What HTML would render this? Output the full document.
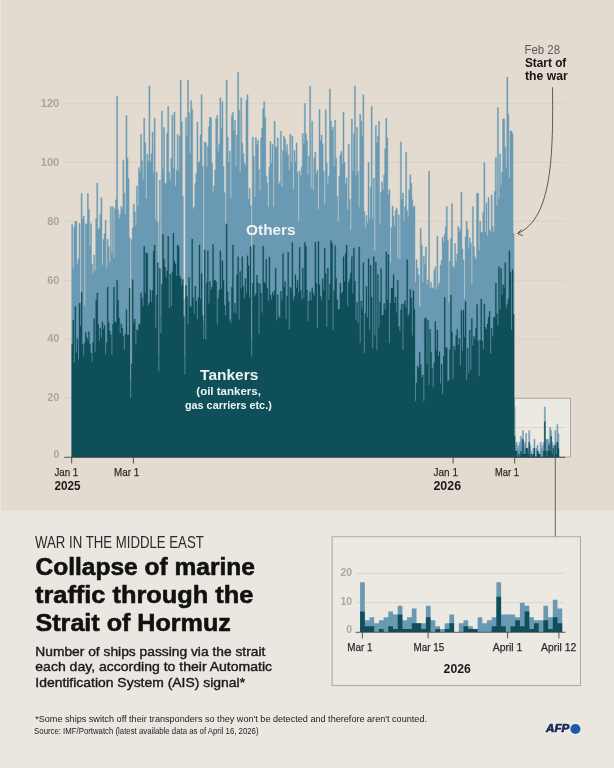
<!DOCTYPE html>
<html><head><meta charset="utf-8"><title>Collapse of marine traffic through the Strait of Hormuz</title>
<style>
html,body{margin:0;padding:0;background:#eae6e0;}
body{width:614px;height:768px;overflow:hidden;font-family:"Liberation Sans",sans-serif;}
svg{display:block;will-change:transform;font-family:"Liberation Sans",sans-serif;}
</style></head><body>
<svg width="614" height="768" viewBox="0 0 614 768">
<rect x="0" y="0" width="614" height="768" fill="#eae6e0"/>
<rect x="1" y="0" width="613" height="510.7" fill="#e3dbcf"/>
<line x1="64" x2="565" y1="398.10" y2="398.10" stroke="#d8d1c5" stroke-width="1"/>
<line x1="64" x2="565" y1="339.20" y2="339.20" stroke="#d8d1c5" stroke-width="1"/>
<line x1="64" x2="565" y1="280.30" y2="280.30" stroke="#d8d1c5" stroke-width="1"/>
<line x1="64" x2="565" y1="221.40" y2="221.40" stroke="#d8d1c5" stroke-width="1"/>
<line x1="64" x2="565" y1="162.50" y2="162.50" stroke="#d8d1c5" stroke-width="1"/>
<line x1="64" x2="565" y1="103.60" y2="103.60" stroke="#d8d1c5" stroke-width="1"/>
<rect x="514.5" y="398.2" width="56" height="58.8" fill="#ece8e2" stroke="#9b968e" stroke-width="0.8"/>
<line x1="515" x2="566" y1="427.5" y2="427.5" stroke="#d8d1c5" stroke-width="0.8"/>
<text x="53.5" y="458.0" font-size="10.8" font-weight="bold" font-style="normal" fill="#aaa59d" text-anchor="start" textLength="5.8" lengthAdjust="spacingAndGlyphs">0</text>
<text x="47.2" y="401.3" font-size="10.8" font-weight="bold" font-style="normal" fill="#aaa59d" text-anchor="start" textLength="12.1" lengthAdjust="spacingAndGlyphs">20</text>
<text x="47.2" y="342.4" font-size="10.8" font-weight="bold" font-style="normal" fill="#aaa59d" text-anchor="start" textLength="12.1" lengthAdjust="spacingAndGlyphs">40</text>
<text x="47.2" y="283.5" font-size="10.8" font-weight="bold" font-style="normal" fill="#aaa59d" text-anchor="start" textLength="12.1" lengthAdjust="spacingAndGlyphs">60</text>
<text x="47.2" y="224.6" font-size="10.8" font-weight="bold" font-style="normal" fill="#aaa59d" text-anchor="start" textLength="12.1" lengthAdjust="spacingAndGlyphs">80</text>
<text x="40.7" y="165.7" font-size="10.8" font-weight="bold" font-style="normal" fill="#aaa59d" text-anchor="start" textLength="18.6" lengthAdjust="spacingAndGlyphs">100</text>
<text x="40.7" y="106.8" font-size="10.8" font-weight="bold" font-style="normal" fill="#aaa59d" text-anchor="start" textLength="18.6" lengthAdjust="spacingAndGlyphs">120</text>
<path d="M71.70,457.00L71.70,224.34L72.74,224.34L72.74,268.52L73.79,268.52L73.79,227.29L74.83,227.29L74.83,221.40L75.87,221.40L75.87,221.40L76.92,221.40L76.92,264.05L77.96,264.05L77.96,258.76L79.00,258.76L79.00,223.55L80.05,223.55L80.05,302.92L81.09,302.92L81.09,193.42L82.13,193.42L82.13,219.08L83.18,219.08L83.18,215.96L84.22,215.96L84.22,305.87L85.26,305.87L85.26,223.78L86.31,223.78L86.31,224.26L87.35,224.26L87.35,193.42L88.39,193.42L88.39,209.34L89.44,209.34L89.44,245.99L90.48,245.99L90.48,223.59L91.52,223.59L91.52,263.90L92.57,263.90L92.57,273.37L93.61,273.37L93.61,255.02L94.65,255.02L94.65,270.45L95.70,270.45L95.70,218.68L96.74,218.68L96.74,183.12L97.78,183.12L97.78,229.66L98.83,229.66L98.83,227.94L99.87,227.94L99.87,214.34L100.92,214.34L100.92,197.84L101.96,197.84L101.96,265.06L103.00,265.06L103.00,239.40L104.05,239.40L104.05,233.63L105.09,233.63L105.09,220.20L106.13,220.20L106.13,267.41L107.18,267.41L107.18,239.14L108.22,239.14L108.22,246.78L109.26,246.78L109.26,262.13L110.31,262.13L110.31,206.68L111.35,206.68L111.35,252.83L112.39,252.83L112.39,206.69L113.44,206.69L113.44,258.10L114.48,258.10L114.48,208.49L115.52,208.49L115.52,199.74L116.57,199.74L116.57,95.94L117.61,95.94L117.61,209.38L118.65,209.38L118.65,218.44L119.70,218.44L119.70,214.61L120.74,214.61L120.74,206.62L121.78,206.62L121.78,209.17L122.83,209.17L122.83,160.23L123.87,160.23L123.87,192.93L124.91,192.93L124.91,214.16L125.96,214.16L125.96,115.38L127.00,115.38L127.00,158.26L128.04,158.26L128.04,178.56L129.09,178.56L129.09,237.40L130.13,237.40L130.13,380.43L131.17,380.43L131.17,239.53L132.22,239.53L132.22,227.92L133.26,227.92L133.26,204.19L134.30,204.19L134.30,211.87L135.35,211.87L135.35,225.25L136.39,225.25L136.39,185.89L137.43,185.89L137.43,206.01L138.48,206.01L138.48,167.50L139.52,167.50L139.52,171.89L140.56,171.89L140.56,134.46L141.61,134.46L141.61,160.70L142.65,160.70L142.65,179.51L143.69,179.51L143.69,118.33L144.74,118.33L144.74,142.59L145.78,142.59L145.78,198.81L146.82,198.81L146.82,154.30L147.87,154.30L147.87,161.17L148.91,161.17L148.91,85.93L149.96,85.93L149.96,161.66L151.00,161.66L151.00,153.46L152.04,153.46L152.04,132.16L153.09,132.16L153.09,172.43L154.13,172.43L154.13,118.33L155.17,118.33L155.17,220.17L156.22,220.17L156.22,171.90L157.26,171.90L157.26,222.59L158.30,222.59L158.30,353.93L159.35,353.93L159.35,180.28L160.39,180.28L160.39,315.64L161.43,315.64L161.43,110.94L162.48,110.94L162.48,168.92L163.52,168.92L163.52,127.51L164.56,127.51L164.56,183.36L165.61,183.36L165.61,183.39L166.65,183.39L166.65,133.27L167.69,133.27L167.69,106.55L168.74,106.55L168.74,172.14L169.78,172.14L169.78,180.78L170.82,180.78L170.82,158.24L171.87,158.24L171.87,115.05L172.91,115.05L172.91,168.55L173.95,168.55L173.95,111.96L175.00,111.96L175.00,186.05L176.04,186.05L176.04,170.14L177.08,170.14L177.08,134.63L178.13,134.63L178.13,171.26L179.17,171.26L179.17,136.44L180.21,136.44L180.21,80.04L181.26,80.04L181.26,121.79L182.30,121.79L182.30,196.39L183.34,196.39L183.34,299.09L184.39,299.09L184.39,356.87L185.43,356.87L185.43,117.52L186.47,117.52L186.47,136.64L187.52,136.64L187.52,80.04L188.56,80.04L188.56,112.78L189.60,112.78L189.60,153.73L190.65,153.73L190.65,100.66L191.69,100.66L191.69,109.28L192.73,109.28L192.73,208.84L193.78,208.84L193.78,206.99L194.82,206.99L194.82,183.55L195.86,183.55L195.86,173.39L196.91,173.39L196.91,121.92L197.95,121.92L197.95,162.68L198.99,162.68L198.99,161.68L200.04,161.68L200.04,135.05L201.08,135.05L201.08,94.77L202.12,94.77L202.12,166.34L203.17,166.34L203.17,321.53L204.21,321.53L204.21,142.16L205.26,142.16L205.26,142.73L206.30,142.73L206.30,166.79L207.34,166.79L207.34,146.36L208.39,146.36L208.39,126.99L209.43,126.99L209.43,117.13L210.47,117.13L210.47,118.33L211.52,118.33L211.52,163.27L212.56,163.27L212.56,192.75L213.60,192.75L213.60,186.10L214.65,186.10L214.65,170.05L215.69,170.05L215.69,118.41L216.73,118.41L216.73,115.60L217.78,115.60L217.78,151.37L218.82,151.37L218.82,143.67L219.86,143.67L219.86,97.71L220.91,97.71L220.91,127.89L221.95,127.89L221.95,101.74L222.99,101.74L222.99,166.42L224.04,166.42L224.04,192.38L225.08,192.38L225.08,223.24L226.12,223.24L226.12,80.04L227.17,80.04L227.17,137.06L228.21,137.06L228.21,162.29L229.25,162.29L229.25,150.97L230.30,150.97L230.30,197.96L231.34,197.96L231.34,115.63L232.38,115.63L232.38,112.44L233.43,112.44L233.43,130.97L234.47,130.97L234.47,120.55L235.51,120.55L235.51,166.37L236.56,166.37L236.56,134.88L237.60,134.88L237.60,72.38L238.64,72.38L238.64,110.17L239.69,110.17L239.69,171.97L240.73,171.97L240.73,97.71L241.77,97.71L241.77,143.21L242.82,143.21L242.82,153.54L243.86,153.54L243.86,162.99L244.90,162.99L244.90,166.28L245.95,166.28L245.95,99.99L246.99,99.99L246.99,94.77L248.03,94.77L248.03,199.34L249.08,199.34L249.08,188.54L250.12,188.54L250.12,205.30L251.16,205.30L251.16,339.20L252.21,339.20L252.21,137.27L253.25,137.27L253.25,156.53L254.30,156.53L254.30,196.67L255.34,196.67L255.34,137.49L256.38,137.49L256.38,144.70L257.43,144.70L257.43,140.53L258.47,140.53L258.47,169.48L259.51,169.48L259.51,190.23L260.56,190.23L260.56,138.08L261.60,138.08L261.60,128.27L262.64,128.27L262.64,108.79L263.69,108.79L263.69,101.83L264.73,101.83L264.73,117.49L265.77,117.49L265.77,175.68L266.82,175.68L266.82,183.00L267.86,183.00L267.86,207.09L268.90,207.09L268.90,167.05L269.95,167.05L269.95,141.44L270.99,141.44L270.99,163.21L272.03,163.21L272.03,144.43L273.08,144.43L273.08,206.86L274.12,206.86L274.12,121.27L275.16,121.27L275.16,146.68L276.21,146.68L276.21,147.41L277.25,147.41L277.25,137.87L278.29,137.87L278.29,184.02L279.34,184.02L279.34,182.04L280.38,182.04L280.38,131.20L281.42,131.20L281.42,186.67L282.47,186.67L282.47,150.61L283.51,150.61L283.51,136.00L284.55,136.00L284.55,138.94L285.60,138.94L285.60,151.51L286.64,151.51L286.64,144.74L287.68,144.74L287.68,155.29L288.73,155.29L288.73,170.08L289.77,170.08L289.77,134.13L290.81,134.13L290.81,162.32L291.86,162.32L291.86,136.00L292.90,136.00L292.90,189.32L293.94,189.32L293.94,150.29L294.99,150.29L294.99,161.38L296.03,161.38L296.03,142.93L297.07,142.93L297.07,172.27L298.12,172.27L298.12,221.40L299.16,221.40L299.16,170.85L300.20,170.85L300.20,175.65L301.25,175.65L301.25,166.88L302.29,166.88L302.29,133.36L303.33,133.36L303.33,143.80L304.38,143.80L304.38,103.60L305.42,103.60L305.42,133.59L306.47,133.59L306.47,140.81L307.51,140.81L307.51,174.22L308.55,174.22L308.55,156.37L309.60,156.37L309.60,85.93L310.64,85.93L310.64,187.49L311.68,187.49L311.68,121.13L312.73,121.13L312.73,190.10L313.77,190.10L313.77,158.22L314.81,158.22L314.81,151.96L315.86,151.96L315.86,173.69L316.90,173.69L316.90,170.30L317.94,170.30L317.94,209.63L318.99,209.63L318.99,109.49L320.03,109.49L320.03,140.52L321.07,140.52L321.07,135.11L322.12,135.11L322.12,143.82L323.16,143.82L323.16,171.43L324.20,171.43L324.20,204.29L325.25,204.29L325.25,109.68L326.29,109.68L326.29,163.05L327.33,163.05L327.33,184.40L328.38,184.40L328.38,175.85L329.42,175.85L329.42,88.88L330.46,88.88L330.46,121.06L331.51,121.06L331.51,130.62L332.55,130.62L332.55,127.16L333.59,127.16L333.59,166.81L334.64,166.81L334.64,120.01L335.68,120.01L335.68,158.13L336.72,158.13L336.72,196.12L337.77,196.12L337.77,221.40L338.81,221.40L338.81,176.20L339.85,176.20L339.85,155.08L340.90,155.08L340.90,151.51L341.94,151.51L341.94,163.99L342.98,163.99L342.98,112.44L344.03,112.44L344.03,162.33L345.07,162.33L345.07,184.23L346.11,184.23L346.11,177.83L347.16,177.83L347.16,209.52L348.20,209.52L348.20,144.34L349.24,144.34L349.24,199.34L350.29,199.34L350.29,230.26L351.33,230.26L351.33,119.06L352.37,119.06L352.37,170.65L353.42,170.65L353.42,133.64L354.46,133.64L354.46,85.93L355.50,85.93L355.50,174.88L356.55,174.88L356.55,127.51L357.59,127.51L357.59,171.52L358.63,171.52L358.63,207.18L359.68,207.18L359.68,114.39L360.72,114.39L360.72,121.15L361.77,121.15L361.77,136.61L362.81,136.61L362.81,94.77L363.85,94.77L363.85,211.40L364.90,211.40L364.90,227.29L365.94,227.29L365.94,215.36L366.98,215.36L366.98,223.19L368.03,223.19L368.03,162.40L369.07,162.40L369.07,218.97L370.11,218.97L370.11,187.50L371.16,187.50L371.16,106.55L372.20,106.55L372.20,218.15L373.24,218.15L373.24,178.37L374.29,178.37L374.29,250.85L375.33,250.85L375.33,125.40L376.37,125.40L376.37,142.57L377.42,142.57L377.42,136.32L378.46,136.32L378.46,121.27L379.50,121.27L379.50,224.33L380.55,224.33L380.55,192.53L381.59,192.53L381.59,181.89L382.63,181.89L382.63,189.96L383.68,189.96L383.68,174.92L384.72,174.92L384.72,148.76L385.76,148.76L385.76,118.33L386.81,118.33L386.81,137.71L387.85,137.71L387.85,194.40L388.89,194.40L388.89,189.73L389.94,189.73L389.94,262.63L390.98,262.63L390.98,227.50L392.02,227.50L392.02,206.20L393.07,206.20L393.07,216.16L394.11,216.16L394.11,225.57L395.15,225.57L395.15,210.50L396.20,210.50L396.20,208.14L397.24,208.14L397.24,258.29L398.28,258.29L398.28,214.81L399.33,214.81L399.33,259.33L400.37,259.33L400.37,141.88L401.41,141.88L401.41,198.92L402.46,198.92L402.46,193.10L403.50,193.10L403.50,221.30L404.54,221.30L404.54,206.74L405.59,206.74L405.59,152.19L406.63,152.19L406.63,210.39L407.67,210.39L407.67,216.82L408.72,216.82L408.72,189.66L409.76,189.66L409.76,174.80L410.81,174.80L410.81,183.19L411.85,183.19L411.85,199.78L412.89,199.78L412.89,207.39L413.94,207.39L413.94,205.88L414.98,205.88L414.98,282.82L416.02,282.82L416.02,259.77L417.07,259.77L417.07,268.00L418.11,268.00L418.11,275.08L419.15,275.08L419.15,306.94L420.20,306.94L420.20,228.47L421.24,228.47L421.24,245.10L422.28,245.10L422.28,282.82L423.33,282.82L423.33,255.97L424.37,255.97L424.37,264.77L425.41,264.77L425.41,246.92L426.46,246.92L426.46,284.65L427.50,284.65L427.50,279.84L428.54,279.84L428.54,171.34L429.59,171.34L429.59,287.90L430.63,287.90L430.63,282.32L431.67,282.32L431.67,287.79L432.72,287.79L432.72,288.65L433.76,288.65L433.76,270.31L434.80,270.31L434.80,266.79L435.85,266.79L435.85,289.25L436.89,289.25L436.89,236.12L437.93,236.12L437.93,285.79L438.98,285.79L438.98,282.67L440.02,282.67L440.02,264.92L441.06,264.92L441.06,260.47L442.11,260.47L442.11,237.37L443.15,237.37L443.15,242.26L444.19,242.26L444.19,234.19L445.24,234.19L445.24,226.70L446.28,226.70L446.28,206.68L447.32,206.68L447.32,239.94L448.37,239.94L448.37,302.51L449.41,302.51L449.41,261.11L450.45,261.11L450.45,238.58L451.50,238.58L451.50,203.73L452.54,203.73L452.54,266.85L453.58,266.85L453.58,267.20L454.63,267.20L454.63,243.39L455.67,243.39L455.67,261.45L456.71,261.45L456.71,253.98L457.76,253.98L457.76,226.60L458.80,226.60L458.80,232.12L459.84,232.12L459.84,228.99L460.89,228.99L460.89,191.95L461.93,191.95L461.93,249.11L462.98,249.11L462.98,259.93L464.02,259.93L464.02,298.55L465.06,298.55L465.06,236.85L466.11,236.85L466.11,221.40L467.15,221.40L467.15,229.02L468.19,229.02L468.19,248.88L469.24,248.88L469.24,237.91L470.28,237.91L470.28,243.42L471.32,243.42L471.32,284.41L472.37,284.41L472.37,206.68L473.41,206.68L473.41,246.70L474.45,246.70L474.45,256.97L475.50,256.97L475.50,259.89L476.54,259.89L476.54,193.19L477.58,193.19L477.58,193.42L478.63,193.42L478.63,250.52L479.67,250.52L479.67,221.24L480.71,221.24L480.71,232.06L481.76,232.06L481.76,232.81L482.80,232.81L482.80,212.20L483.84,212.20L483.84,162.50L484.89,162.50L484.89,232.54L485.93,232.54L485.93,202.75L486.97,202.75L486.97,235.68L488.02,235.68L488.02,197.33L489.06,197.33L489.06,229.92L490.10,229.92L490.10,231.73L491.15,231.73L491.15,194.90L492.19,194.90L492.19,226.32L493.23,226.32L493.23,232.21L494.28,232.21L494.28,191.40L495.32,191.40L495.32,157.46L496.36,157.46L496.36,205.55L497.41,205.55L497.41,107.43L498.45,107.43L498.45,198.48L499.49,198.48L499.49,153.89L500.54,153.89L500.54,185.24L501.58,185.24L501.58,171.92L502.62,171.92L502.62,118.90L503.67,118.90L503.67,119.21L504.71,119.21L504.71,147.44L505.75,147.44L505.75,167.47L506.80,167.47L506.80,77.10L507.84,77.10L507.84,114.33L508.88,114.33L508.88,177.73L509.93,177.73L509.93,131.20L510.97,131.20L510.97,130.99L512.01,130.99L512.01,133.66L513.06,133.66L513.06,233.18L514.10,233.18L514.10,406.94L515.15,406.94L515.15,445.22L516.19,445.22L516.19,442.27L517.23,442.27L517.23,448.17L518.28,448.17L518.28,445.22L519.32,445.22L519.32,442.27L520.36,442.27L520.36,436.38L521.41,436.38L521.41,439.33L522.45,439.33L522.45,430.50L523.49,430.50L523.49,445.22L524.54,445.22L524.54,442.27L525.58,442.27L525.58,433.44L526.62,433.44L526.62,448.17L527.67,448.17L527.67,448.17L528.71,448.17L528.71,430.50L529.75,430.50L529.75,445.22L530.80,445.22L530.80,451.11L531.84,451.11L531.84,454.06L532.88,454.06L532.88,448.17L533.93,448.17L533.93,439.33L534.97,439.33L534.97,457.00L536.01,457.00L536.01,448.17L537.06,448.17L537.06,445.22L538.10,445.22L538.10,451.11L539.14,451.11L539.14,454.06L540.19,454.06L540.19,442.27L541.23,442.27L541.23,448.17L542.27,448.17L542.27,445.22L543.32,445.22L543.32,442.27L544.36,442.27L544.36,406.94L545.40,406.94L545.40,439.33L546.45,439.33L546.45,439.33L547.49,439.33L547.49,439.33L548.53,439.33L548.53,442.27L549.58,442.27L549.58,427.55L550.62,427.55L550.62,430.50L551.66,430.50L551.66,442.27L552.71,442.27L552.71,445.22L553.75,445.22L553.75,445.22L554.79,445.22L554.79,430.50L555.84,430.50L555.84,442.27L556.88,442.27L556.88,424.61L557.92,424.61L557.92,433.44L558.97,433.44L558.97,457.00Z" fill="#6a9ab3" stroke="#6a9ab3" stroke-width="0.45"/>
<path d="M71.70,457.00L71.70,343.95L72.74,343.95L72.74,320.06L73.79,320.06L73.79,362.76L74.83,362.76L74.83,306.56L75.87,306.56L75.87,352.74L76.92,352.74L76.92,338.48L77.96,338.48L77.96,359.81L79.00,359.81L79.00,303.33L80.05,303.33L80.05,325.88L81.09,325.88L81.09,292.08L82.13,292.08L82.13,344.17L83.18,344.17L83.18,356.87L84.22,356.87L84.22,342.81L85.26,342.81L85.26,332.17L86.31,332.17L86.31,337.34L87.35,337.34L87.35,340.47L88.39,340.47L88.39,331.69L89.44,331.69L89.44,344.29L90.48,344.29L90.48,352.96L91.52,352.96L91.52,361.69L92.57,361.69L92.57,342.40L93.61,342.40L93.61,318.80L94.65,318.80L94.65,351.66L95.70,351.66L95.70,300.09L96.74,300.09L96.74,292.91L97.78,292.91L97.78,324.46L98.83,324.46L98.83,340.62L99.87,340.62L99.87,328.04L100.92,328.04L100.92,337.19L101.96,337.19L101.96,321.72L103.00,321.72L103.00,328.97L104.05,328.97L104.05,325.14L105.09,325.14L105.09,354.72L106.13,354.72L106.13,342.45L107.18,342.45L107.18,287.05L108.22,287.05L108.22,322.61L109.26,322.61L109.26,331.12L110.31,331.12L110.31,334.70L111.35,334.70L111.35,355.11L112.39,355.11L112.39,324.25L113.44,324.25L113.44,287.36L114.48,287.36L114.48,321.51L115.52,321.51L115.52,323.06L116.57,323.06L116.57,280.30L117.61,280.30L117.61,300.28L118.65,300.28L118.65,318.06L119.70,318.06L119.70,333.40L120.74,333.40L120.74,323.83L121.78,323.83L121.78,328.21L122.83,328.21L122.83,336.02L123.87,336.02L123.87,349.97L124.91,349.97L124.91,333.72L125.96,333.72L125.96,309.64L127.00,309.64L127.00,334.99L128.04,334.99L128.04,335.11L129.09,335.11L129.09,288.34L130.13,288.34L130.13,398.10L131.17,398.10L131.17,363.73L132.22,363.73L132.22,279.74L133.26,279.74L133.26,323.23L134.30,323.23L134.30,319.15L135.35,319.15L135.35,344.63L136.39,344.63L136.39,329.81L137.43,329.81L137.43,330.32L138.48,330.32L138.48,323.93L139.52,323.93L139.52,324.46L140.56,324.46L140.56,292.86L141.61,292.86L141.61,298.26L142.65,298.26L142.65,306.18L143.69,306.18L143.69,246.14L144.74,246.14L144.74,292.90L145.78,292.90L145.78,252.74L146.82,252.74L146.82,253.86L147.87,253.86L147.87,305.79L148.91,305.79L148.91,302.84L149.96,302.84L149.96,290.01L151.00,290.01L151.00,301.69L152.04,301.69L152.04,290.35L153.09,290.35L153.09,251.04L154.13,251.04L154.13,244.96L155.17,244.96L155.17,328.13L156.22,328.13L156.22,295.03L157.26,295.03L157.26,262.87L158.30,262.87L158.30,371.60L159.35,371.60L159.35,268.53L160.39,268.53L160.39,333.31L161.43,333.31L161.43,284.22L162.48,284.22L162.48,234.36L163.52,234.36L163.52,259.24L164.56,259.24L164.56,266.95L165.61,266.95L165.61,277.72L166.65,277.72L166.65,270.77L167.69,270.77L167.69,236.12L168.74,236.12L168.74,308.04L169.78,308.04L169.78,274.09L170.82,274.09L170.82,306.14L171.87,306.14L171.87,271.80L172.91,271.80L172.91,233.18L173.95,233.18L173.95,261.12L175.00,261.12L175.00,264.00L176.04,264.00L176.04,275.87L177.08,275.87L177.08,244.96L178.13,244.96L178.13,246.38L179.17,246.38L179.17,275.79L180.21,275.79L180.21,278.14L181.26,278.14L181.26,285.48L182.30,285.48L182.30,279.60L183.34,279.60L183.34,316.76L184.39,316.76L184.39,374.54L185.43,374.54L185.43,285.60L186.47,285.60L186.47,296.49L187.52,296.49L187.52,324.28L188.56,324.28L188.56,277.44L189.60,277.44L189.60,306.33L190.65,306.33L190.65,306.78L191.69,306.78L191.69,239.07L192.73,239.07L192.73,297.79L193.78,297.79L193.78,313.72L194.82,313.72L194.82,286.04L195.86,286.04L195.86,300.90L196.91,300.90L196.91,319.58L197.95,319.58L197.95,297.39L198.99,297.39L198.99,244.96L200.04,244.96L200.04,299.31L201.08,299.31L201.08,273.41L202.12,273.41L202.12,315.53L203.17,315.53L203.17,339.20L204.21,339.20L204.21,249.65L205.26,249.65L205.26,339.20L206.30,339.20L206.30,282.86L207.34,282.86L207.34,250.85L208.39,250.85L208.39,303.55L209.43,303.55L209.43,281.28L210.47,281.28L210.47,289.69L211.52,289.69L211.52,286.83L212.56,286.83L212.56,244.60L213.60,244.60L213.60,280.48L214.65,280.48L214.65,279.96L215.69,279.96L215.69,281.81L216.73,281.81L216.73,324.52L217.78,324.52L217.78,298.41L218.82,298.41L218.82,290.14L219.86,290.14L219.86,250.85L220.91,250.85L220.91,289.12L221.95,289.12L221.95,260.76L222.99,260.76L222.99,280.15L224.04,280.15L224.04,305.25L225.08,305.25L225.08,315.63L226.12,315.63L226.12,224.34L227.17,224.34L227.17,291.69L228.21,291.69L228.21,301.75L229.25,301.75L229.25,319.57L230.30,319.57L230.30,323.21L231.34,323.21L231.34,287.15L232.38,287.15L232.38,244.96L233.43,244.96L233.43,312.76L234.47,312.76L234.47,303.33L235.51,303.33L235.51,313.60L236.56,313.60L236.56,274.64L237.60,274.64L237.60,256.74L238.64,256.74L238.64,319.87L239.69,319.87L239.69,271.42L240.73,271.42L240.73,288.47L241.77,288.47L241.77,256.74L242.82,256.74L242.82,286.20L243.86,286.20L243.86,298.52L244.90,298.52L244.90,278.45L245.95,278.45L245.95,293.39L246.99,293.39L246.99,255.81L248.03,255.81L248.03,265.59L249.08,265.59L249.08,297.65L250.12,297.65L250.12,246.60L251.16,246.60L251.16,356.87L252.21,356.87L252.21,283.29L253.25,283.29L253.25,244.96L254.30,244.96L254.30,296.23L255.34,296.23L255.34,293.94L256.38,293.94L256.38,275.08L257.43,275.08L257.43,282.91L258.47,282.91L258.47,334.16L259.51,334.16L259.51,283.86L260.56,283.86L260.56,293.05L261.60,293.05L261.60,312.86L262.64,312.86L262.64,246.14L263.69,246.14L263.69,281.93L264.73,281.93L264.73,283.17L265.77,283.17L265.77,259.30L266.82,259.30L266.82,288.32L267.86,288.32L267.86,300.91L268.90,300.91L268.90,256.90L269.95,256.90L269.95,295.07L270.99,295.07L270.99,299.62L272.03,299.62L272.03,292.05L273.08,292.05L273.08,295.57L274.12,295.57L274.12,290.45L275.16,290.45L275.16,268.52L276.21,268.52L276.21,320.41L277.25,320.41L277.25,294.63L278.29,294.63L278.29,316.47L279.34,316.47L279.34,318.12L280.38,318.12L280.38,291.16L281.42,291.16L281.42,300.46L282.47,300.46L282.47,253.69L283.51,253.69L283.51,287.30L284.55,287.30L284.55,281.42L285.60,281.42L285.60,319.16L286.64,319.16L286.64,295.89L287.68,295.89L287.68,252.19L288.73,252.19L288.73,329.83L289.77,329.83L289.77,287.28L290.81,287.28L290.81,288.77L291.86,288.77L291.86,242.47L292.90,242.47L292.90,300.77L293.94,300.77L293.94,296.50L294.99,296.50L294.99,274.41L296.03,274.41L296.03,287.64L297.07,287.64L297.07,280.14L298.12,280.14L298.12,292.42L299.16,292.42L299.16,247.26L300.20,247.26L300.20,290.26L301.25,290.26L301.25,299.97L302.29,299.97L302.29,268.18L303.33,268.18L303.33,298.07L304.38,298.07L304.38,242.28L305.42,242.28L305.42,246.14L306.47,246.14L306.47,289.96L307.51,289.96L307.51,321.28L308.55,321.28L308.55,300.84L309.60,300.84L309.60,291.84L310.64,291.84L310.64,300.50L311.68,300.50L311.68,287.77L312.73,287.77L312.73,292.88L313.77,292.88L313.77,296.37L314.81,296.37L314.81,242.02L315.86,242.02L315.86,283.20L316.90,283.20L316.90,328.09L317.94,328.09L317.94,241.38L318.99,241.38L318.99,284.59L320.03,284.59L320.03,296.32L321.07,296.32L321.07,300.35L322.12,300.35L322.12,278.84L323.16,278.84L323.16,290.20L324.20,290.20L324.20,247.91L325.25,247.91L325.25,273.65L326.29,273.65L326.29,326.94L327.33,326.94L327.33,268.00L328.38,268.00L328.38,300.10L329.42,300.10L329.42,284.04L330.46,284.04L330.46,240.54L331.51,240.54L331.51,243.16L332.55,243.16L332.55,330.29L333.59,330.29L333.59,290.58L334.64,290.58L334.64,245.73L335.68,245.73L335.68,278.23L336.72,278.23L336.72,299.71L337.77,299.71L337.77,309.73L338.81,309.73L338.81,309.02L339.85,309.02L339.85,283.05L340.90,283.05L340.90,293.81L341.94,293.81L341.94,291.96L342.98,291.96L342.98,256.74L344.03,256.74L344.03,281.32L345.07,281.32L345.07,253.76L346.11,253.76L346.11,245.04L347.16,245.04L347.16,306.26L348.20,306.26L348.20,282.49L349.24,282.49L349.24,279.42L350.29,279.42L350.29,272.91L351.33,272.91L351.33,256.80L352.37,256.80L352.37,293.44L353.42,293.44L353.42,247.91L354.46,247.91L354.46,281.10L355.50,281.10L355.50,319.90L356.55,319.90L356.55,302.15L357.59,302.15L357.59,322.66L358.63,322.66L358.63,247.09L359.68,247.09L359.68,342.99L360.72,342.99L360.72,300.88L361.77,300.88L361.77,308.71L362.81,308.71L362.81,262.63L363.85,262.63L363.85,353.30L364.90,353.30L364.90,313.57L365.94,313.57L365.94,286.54L366.98,286.54L366.98,317.53L368.03,317.53L368.03,258.74L369.07,258.74L369.07,329.78L370.11,329.78L370.11,265.32L371.16,265.32L371.16,297.19L372.20,297.19L372.20,348.35L373.24,348.35L373.24,256.44L374.29,256.44L374.29,335.41L375.33,335.41L375.33,262.20L376.37,262.20L376.37,350.18L377.42,350.18L377.42,274.41L378.46,274.41L378.46,327.32L379.50,327.32L379.50,301.86L380.55,301.86L380.55,268.71L381.59,268.71L381.59,315.60L382.63,315.60L382.63,314.88L383.68,314.88L383.68,303.61L384.72,303.61L384.72,309.86L385.76,309.86L385.76,252.03L386.81,252.03L386.81,299.88L387.85,299.88L387.85,254.69L388.89,254.69L388.89,343.37L389.94,343.37L389.94,303.04L390.98,303.04L390.98,288.09L392.02,288.09L392.02,287.89L393.07,287.89L393.07,274.60L394.11,274.60L394.11,302.90L395.15,302.90L395.15,297.09L396.20,297.09L396.20,312.67L397.24,312.67L397.24,280.30L398.28,280.30L398.28,326.44L399.33,326.44L399.33,331.11L400.37,331.11L400.37,309.80L401.41,309.80L401.41,303.88L402.46,303.88L402.46,350.12L403.50,350.12L403.50,304.56L404.54,304.56L404.54,300.78L405.59,300.78L405.59,308.10L406.63,308.10L406.63,259.69L407.67,259.69L407.67,316.83L408.72,316.83L408.72,313.77L409.76,313.77L409.76,289.26L410.81,289.26L410.81,298.00L411.85,298.00L411.85,335.50L412.89,335.50L412.89,290.80L413.94,290.80L413.94,309.61L414.98,309.61L414.98,400.88L416.02,400.88L416.02,383.08L417.07,383.08L417.07,365.97L418.11,365.97L418.11,368.19L419.15,368.19L419.15,351.88L420.20,351.88L420.20,364.44L421.24,364.44L421.24,377.49L422.28,377.49L422.28,374.91L423.33,374.91L423.33,401.16L424.37,401.16L424.37,318.86L425.41,318.86L425.41,317.68L426.46,317.68L426.46,363.72L427.50,363.72L427.50,320.35L428.54,320.35L428.54,385.09L429.59,385.09L429.59,329.37L430.63,329.37L430.63,352.26L431.67,352.26L431.67,368.28L432.72,368.28L432.72,387.60L433.76,387.60L433.76,362.74L434.80,362.74L434.80,321.53L435.85,321.53L435.85,350.49L436.89,350.49L436.89,329.98L437.93,329.98L437.93,356.19L438.98,356.19L438.98,351.66L440.02,351.66L440.02,383.71L441.06,383.71L441.06,364.13L442.11,364.13L442.11,394.55L443.15,394.55L443.15,356.15L444.19,356.15L444.19,297.60L445.24,297.60L445.24,347.60L446.28,347.60L446.28,347.98L447.32,347.98L447.32,381.44L448.37,381.44L448.37,380.18L449.41,380.18L449.41,349.74L450.45,349.74L450.45,295.02L451.50,295.02L451.50,332.14L452.54,332.14L452.54,379.31L453.58,379.31L453.58,346.28L454.63,346.28L454.63,350.18L455.67,350.18L455.67,335.44L456.71,335.44L456.71,329.22L457.76,329.22L457.76,344.67L458.80,344.67L458.80,338.25L459.84,338.25L459.84,365.14L460.89,365.14L460.89,310.34L461.93,310.34L461.93,350.88L462.98,350.88L462.98,310.08L464.02,310.08L464.02,337.07L465.06,337.07L465.06,301.67L466.11,301.67L466.11,379.98L467.15,379.98L467.15,347.88L468.19,347.88L468.19,373.56L469.24,373.56L469.24,330.07L470.28,330.07L470.28,369.92L471.32,369.92L471.32,318.59L472.37,318.59L472.37,345.79L473.41,345.79L473.41,336.51L474.45,336.51L474.45,339.15L475.50,339.15L475.50,328.23L476.54,328.23L476.54,304.55L477.58,304.55L477.58,341.20L478.63,341.20L478.63,376.32L479.67,376.32L479.67,339.98L480.71,339.98L480.71,299.08L481.76,299.08L481.76,340.99L482.80,340.99L482.80,349.20L483.84,349.20L483.84,303.86L484.89,303.86L484.89,327.18L485.93,327.18L485.93,329.50L486.97,329.50L486.97,324.12L488.02,324.12L488.02,317.06L489.06,317.06L489.06,311.19L490.10,311.19L490.10,354.04L491.15,354.04L491.15,328.43L492.19,328.43L492.19,336.87L493.23,336.87L493.23,317.31L494.28,317.31L494.28,317.76L495.32,317.76L495.32,283.25L496.36,283.25L496.36,313.69L497.41,313.69L497.41,325.34L498.45,325.34L498.45,266.72L499.49,266.72L499.49,309.69L500.54,309.69L500.54,268.52L501.58,268.52L501.58,294.78L502.62,294.78L502.62,284.75L503.67,284.75L503.67,287.38L504.71,287.38L504.71,262.63L505.75,262.63L505.75,308.73L506.80,308.73L506.80,304.35L507.84,304.35L507.84,298.59L508.88,298.59L508.88,250.85L509.93,250.85L509.93,272.09L510.97,272.09L510.97,329.91L512.01,329.91L512.01,269.46L513.06,269.46L513.06,314.17L514.10,314.17L514.10,436.38L515.15,436.38L515.15,451.11L516.19,451.11L516.19,451.11L517.23,451.11L517.23,457.00L518.28,457.00L518.28,454.06L519.32,454.06L519.32,457.00L520.36,457.00L520.36,451.11L521.41,451.11L521.41,454.06L522.45,454.06L522.45,439.33L523.49,439.33L523.49,454.06L524.54,454.06L524.54,454.06L525.58,454.06L525.58,448.17L526.62,448.17L526.62,448.17L527.67,448.17L527.67,454.06L528.71,454.06L528.71,442.27L529.75,442.27L529.75,457.00L530.80,457.00L530.80,454.06L531.84,454.06L531.84,457.00L532.88,457.00L532.88,454.06L533.93,454.06L533.93,448.17L534.97,448.17L534.97,457.00L536.01,457.00L536.01,457.00L537.06,457.00L537.06,451.11L538.10,451.11L538.10,454.06L539.14,454.06L539.14,454.06L540.19,454.06L540.19,457.00L541.23,457.00L541.23,457.00L542.27,457.00L542.27,457.00L543.32,457.00L543.32,451.11L544.36,451.11L544.36,421.66L545.40,421.66L545.40,451.11L546.45,451.11L546.45,457.00L547.49,457.00L547.49,451.11L548.53,451.11L548.53,445.22L549.58,445.22L549.58,451.11L550.62,451.11L550.62,436.38L551.66,436.38L551.66,454.06L552.71,454.06L552.71,448.17L553.75,448.17L553.75,457.00L554.79,457.00L554.79,445.22L555.84,445.22L555.84,454.06L556.88,454.06L556.88,442.27L557.92,442.27L557.92,448.17L558.97,448.17L558.97,457.00Z" fill="#0f4f59" stroke="#0f4f59" stroke-width="0.3"/>
<line x1="64.2" x2="565" y1="457.3" y2="457.3" stroke="#333" stroke-width="0.8"/>
<line x1="71.7" x2="71.7" y1="457" y2="463.5" stroke="#444" stroke-width="0.9"/>
<line x1="133.4" x2="133.4" y1="457" y2="463.5" stroke="#444" stroke-width="0.9"/>
<line x1="453.1" x2="453.1" y1="457" y2="463.5" stroke="#444" stroke-width="0.9"/>
<line x1="514.7" x2="514.7" y1="457" y2="463.5" stroke="#444" stroke-width="0.9"/>
<text x="54.4" y="475.5" font-size="11.6" font-weight="normal" font-style="normal" fill="#2a2a2a" text-anchor="start" textLength="23.8" lengthAdjust="spacingAndGlyphs" stroke="#2a2a2a" stroke-width="0.25">Jan 1</text>
<text x="114" y="475.5" font-size="11.6" font-weight="normal" font-style="normal" fill="#2a2a2a" text-anchor="start" textLength="25.1" lengthAdjust="spacingAndGlyphs" stroke="#2a2a2a" stroke-width="0.25">Mar 1</text>
<text x="54.4" y="489.6" font-size="12.6" font-weight="bold" font-style="normal" fill="#1a1a1a" text-anchor="start" textLength="26.1" lengthAdjust="spacingAndGlyphs">2025</text>
<text x="433.6" y="475.5" font-size="11.6" font-weight="normal" font-style="normal" fill="#2a2a2a" text-anchor="start" textLength="24.4" lengthAdjust="spacingAndGlyphs" stroke="#2a2a2a" stroke-width="0.25">Jan 1</text>
<text x="495.1" y="475.5" font-size="11.6" font-weight="normal" font-style="normal" fill="#2a2a2a" text-anchor="start" textLength="23.8" lengthAdjust="spacingAndGlyphs" stroke="#2a2a2a" stroke-width="0.25">Mar 1</text>
<text x="433.4" y="489.6" font-size="12.6" font-weight="bold" font-style="normal" fill="#1a1a1a" text-anchor="start" textLength="27.7" lengthAdjust="spacingAndGlyphs">2026</text>
<text x="246" y="234.9" font-size="15.5" font-weight="bold" font-style="normal" fill="#eef3f3" text-anchor="start" textLength="49.7" lengthAdjust="spacingAndGlyphs">Others</text>
<text x="200.1" y="379.7" font-size="15.1" font-weight="bold" font-style="normal" fill="#eef3f3" text-anchor="start" textLength="58.3" lengthAdjust="spacingAndGlyphs">Tankers</text>
<text x="196.3" y="394.9" font-size="10.9" font-weight="bold" font-style="normal" fill="#eef3f3" text-anchor="start" textLength="64.6" lengthAdjust="spacingAndGlyphs">(oil tankers,</text>
<text x="184.9" y="409.3" font-size="10.9" font-weight="bold" font-style="normal" fill="#eef3f3" text-anchor="start" textLength="86.9" lengthAdjust="spacingAndGlyphs">gas carriers etc.)</text>
<text x="524.6" y="53.8" font-size="12.3" font-weight="normal" font-style="normal" fill="#5a5a5a" text-anchor="start" textLength="35.4" lengthAdjust="spacingAndGlyphs">Feb 28</text>
<text x="525" y="66.7" font-size="12.2" font-weight="bold" font-style="normal" fill="#151515" text-anchor="start" textLength="41.3" lengthAdjust="spacingAndGlyphs">Start of</text>
<text x="525" y="79.8" font-size="12.2" font-weight="bold" font-style="normal" fill="#151515" text-anchor="start" textLength="42.7" lengthAdjust="spacingAndGlyphs">the war</text>
<path d="M552.5,87.3 C553.25,152.5 552.5,218.5 518,233.2" fill="none" stroke="#595959" stroke-width="1"/>
<path d="M521.6,229.6 L517.3,233.5 L522.8,235.6" fill="none" stroke="#595959" stroke-width="1"/>
<line x1="555.3" x2="555.3" y1="457" y2="537" stroke="#555" stroke-width="0.9"/>
<rect x="332.1" y="536.8" width="248.4" height="148.8" fill="#ece8e2" stroke="#a5a19b" stroke-width="0.9"/>
<line x1="356" x2="565" y1="573.3" y2="573.3" stroke="#d8d3cb" stroke-width="0.9"/>
<line x1="356" x2="565" y1="602.6" y2="602.6" stroke="#d8d3cb" stroke-width="0.9"/>
<path d="M360.10,632.00L360.10,582.19L364.80,582.19L364.80,620.28L369.50,620.28L369.50,617.35L374.20,617.35L374.20,623.21L378.90,623.21L378.90,620.28L383.60,620.28L383.60,617.35L388.30,617.35L388.30,611.49L393.00,611.49L393.00,614.42L397.70,614.42L397.70,605.63L402.40,605.63L402.40,620.28L407.10,620.28L407.10,617.35L411.80,617.35L411.80,608.56L416.50,608.56L416.50,623.21L421.20,623.21L421.20,623.21L425.90,623.21L425.90,605.63L430.60,605.63L430.60,620.28L435.30,620.28L435.30,626.14L440.00,626.14L440.00,629.07L444.70,629.07L444.70,623.21L449.40,623.21L449.40,614.42L454.10,614.42L454.10,632.00L458.80,632.00L458.80,623.21L463.50,623.21L463.50,620.28L468.20,620.28L468.20,626.14L472.90,626.14L472.90,629.07L477.60,629.07L477.60,617.35L482.30,617.35L482.30,623.21L487.00,623.21L487.00,620.28L491.70,620.28L491.70,617.35L496.40,617.35L496.40,582.19L501.10,582.19L501.10,614.42L505.80,614.42L505.80,614.42L510.50,614.42L510.50,614.42L515.20,614.42L515.20,617.35L519.90,617.35L519.90,602.70L524.60,602.70L524.60,605.63L529.30,605.63L529.30,617.35L534.00,617.35L534.00,620.28L538.70,620.28L538.70,620.28L543.40,620.28L543.40,605.63L548.10,605.63L548.10,617.35L552.80,617.35L552.80,599.77L557.50,599.77L557.50,608.56L562.20,608.56L562.20,632.00Z" fill="#6a9ab3"/>
<path d="M360.10,632.00L360.10,611.49L364.80,611.49L364.80,626.14L369.50,626.14L369.50,626.14L374.20,626.14L374.20,632.00L378.90,632.00L378.90,629.07L383.60,629.07L383.60,632.00L388.30,632.00L388.30,626.14L393.00,626.14L393.00,629.07L397.70,629.07L397.70,614.42L402.40,614.42L402.40,629.07L407.10,629.07L407.10,629.07L411.80,629.07L411.80,623.21L416.50,623.21L416.50,623.21L421.20,623.21L421.20,629.07L425.90,629.07L425.90,617.35L430.60,617.35L430.60,632.00L435.30,632.00L435.30,629.07L440.00,629.07L440.00,632.00L444.70,632.00L444.70,629.07L449.40,629.07L449.40,623.21L454.10,623.21L454.10,632.00L458.80,632.00L458.80,632.00L463.50,632.00L463.50,626.14L468.20,626.14L468.20,629.07L472.90,629.07L472.90,629.07L477.60,629.07L477.60,632.00L482.30,632.00L482.30,632.00L487.00,632.00L487.00,632.00L491.70,632.00L491.70,626.14L496.40,626.14L496.40,596.84L501.10,596.84L501.10,626.14L505.80,626.14L505.80,632.00L510.50,632.00L510.50,626.14L515.20,626.14L515.20,620.28L519.90,620.28L519.90,626.14L524.60,626.14L524.60,611.49L529.30,611.49L529.30,629.07L534.00,629.07L534.00,623.21L538.70,623.21L538.70,632.00L543.40,632.00L543.40,620.28L548.10,620.28L548.10,629.07L552.80,629.07L552.80,617.35L557.50,617.35L557.50,623.21L562.20,623.21L562.20,632.00Z" fill="#0f4f59"/>
<line x1="355.5" x2="565.6" y1="632.3" y2="632.3" stroke="#333" stroke-width="0.8"/>
<line x1="362.4" x2="362.4" y1="632" y2="638.5" stroke="#444" stroke-width="0.9"/>
<line x1="428.1" x2="428.1" y1="632" y2="638.5" stroke="#444" stroke-width="0.9"/>
<line x1="507.6" x2="507.6" y1="632" y2="638.5" stroke="#444" stroke-width="0.9"/>
<line x1="558.9" x2="558.9" y1="632" y2="638.5" stroke="#444" stroke-width="0.9"/>
<text x="352" y="575.9" font-size="10.4" font-weight="bold" font-style="normal" fill="#aca79f" text-anchor="end">20</text>
<text x="352" y="605.2" font-size="10.4" font-weight="bold" font-style="normal" fill="#aca79f" text-anchor="end">10</text>
<text x="352" y="633.4" font-size="10.4" font-weight="bold" font-style="normal" fill="#aca79f" text-anchor="end">0</text>
<text x="347.3" y="650.7" font-size="11.6" font-weight="normal" font-style="normal" fill="#2a2a2a" text-anchor="start" textLength="25.2" lengthAdjust="spacingAndGlyphs" stroke="#2a2a2a" stroke-width="0.25">Mar 1</text>
<text x="413.5" y="650.7" font-size="11.6" font-weight="normal" font-style="normal" fill="#2a2a2a" text-anchor="start" textLength="30.8" lengthAdjust="spacingAndGlyphs" stroke="#2a2a2a" stroke-width="0.25">Mar 15</text>
<text x="492.7" y="650.5" font-size="11.6" font-weight="normal" font-style="normal" fill="#2a2a2a" text-anchor="start" textLength="29.7" lengthAdjust="spacingAndGlyphs" stroke="#2a2a2a" stroke-width="0.25">April 1</text>
<text x="541.0" y="650.5" font-size="11.6" font-weight="normal" font-style="normal" fill="#2a2a2a" text-anchor="start" textLength="35.2" lengthAdjust="spacingAndGlyphs" stroke="#2a2a2a" stroke-width="0.25">April 12</text>
<text x="443.6" y="672.9" font-size="12.2" font-weight="bold" font-style="normal" fill="#1a1a1a" text-anchor="start" textLength="27.2" lengthAdjust="spacingAndGlyphs">2026</text>
<text x="35" y="547.6" font-size="16.1" font-weight="normal" font-style="normal" fill="#2a2a2a" text-anchor="start" textLength="168.8" lengthAdjust="spacingAndGlyphs">WAR IN THE MIDDLE EAST</text>
<text x="35.5" y="575" font-size="24.3" font-weight="bold" font-style="normal" fill="#111" text-anchor="start" textLength="219.4" lengthAdjust="spacingAndGlyphs" stroke="#111" stroke-width="0.6">Collapse of marine</text>
<text x="35" y="603" font-size="24.3" font-weight="bold" font-style="normal" fill="#111" text-anchor="start" textLength="218.3" lengthAdjust="spacingAndGlyphs" stroke="#111" stroke-width="0.6">traffic through the</text>
<text x="35.5" y="630.7" font-size="24.3" font-weight="bold" font-style="normal" fill="#111" text-anchor="start" textLength="195.3" lengthAdjust="spacingAndGlyphs" stroke="#111" stroke-width="0.6">Strait of Hormuz</text>
<text x="35.3" y="655.5" font-size="13.6" font-weight="normal" font-style="normal" fill="#1a1a1a" text-anchor="start" textLength="230" lengthAdjust="spacingAndGlyphs" stroke="#1a1a1a" stroke-width="0.4">Number of ships passing via the strait</text>
<text x="35.3" y="671.4" font-size="13.6" font-weight="normal" font-style="normal" fill="#1a1a1a" text-anchor="start" textLength="236.8" lengthAdjust="spacingAndGlyphs" stroke="#1a1a1a" stroke-width="0.4">each day, according to their Automatic</text>
<text x="35.3" y="686.6" font-size="13.6" font-weight="normal" font-style="normal" fill="#1a1a1a" text-anchor="start" textLength="209.8" lengthAdjust="spacingAndGlyphs" stroke="#1a1a1a" stroke-width="0.4">Identification System (AIS) signal*</text>
<text x="35.2" y="721.8" font-size="9.4" font-weight="normal" font-style="normal" fill="#222" text-anchor="start" textLength="391.8" lengthAdjust="spacingAndGlyphs">*Some ships switch off their transponders so they won't be detected and therefore aren't counted.</text>
<text x="34.1" y="733.7" font-size="8.4" font-weight="normal" font-style="normal" fill="#222" text-anchor="start" textLength="224.4" lengthAdjust="spacingAndGlyphs">Source: IMF/Portwatch (latest available data as of April 16, 2026)</text>
<text x="546" y="732.2" font-size="11" font-weight="bold" font-style="italic" fill="#1c2d5a" text-anchor="start" textLength="23.3" lengthAdjust="spacingAndGlyphs" stroke="#f4f2ee" stroke-width="2.4" stroke-opacity="0.7">AFP</text>
<circle cx="575.4" cy="729" r="6.2" fill="#f4f2ee" fill-opacity="0.7"/>
<text x="546" y="732.2" font-size="11" font-weight="bold" font-style="italic" fill="#1c2d5a" text-anchor="start" textLength="23.3" lengthAdjust="spacingAndGlyphs" stroke="#1c2d5a" stroke-width="0.7">AFP</text>
<circle cx="575.4" cy="729" r="5.1" fill="#1b5aa8"/>
</svg>
</body></html>
